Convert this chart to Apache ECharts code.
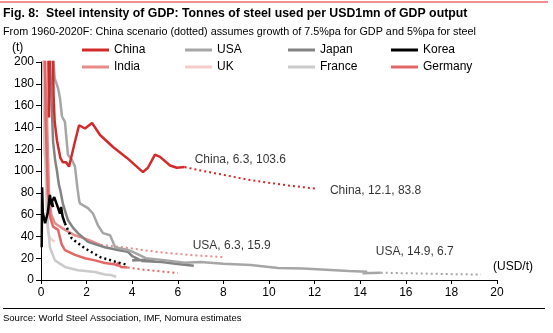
<!DOCTYPE html>
<html><head><meta charset="utf-8">
<script src="https://cdn.jsdelivr.net/npm/echarts@6/dist/echarts.min.js"></script>
<style>html,body{margin:0;padding:0;background:#fff}#c{width:553px;height:333px}</style>
</head><body><div id="c"></div>
<script>
// ---- data (x: GDP USD tn, y: tonnes of steel per USD1mn GDP) ----
var xTicks = [0,2,4,6,8,10,12,14,16,18,20];
var yTicks = [0,20,40,60,80,100,120,140,160,180,200];
var legendNames = ['China','USA','Japan','Korea','India','UK','France','Germany'];

var china = [[0.2,320],[0.25,230],[0.3,260],[0.35,149],[0.4,240],[0.48,280],[0.52,210],[0.55,170],[0.6,145],[0.7,128],[0.85,112],[0.96,108],[1.1,108],[1.23,104],[1.32,112],[1.49,127],[1.67,142],[1.93,139],[2.24,144],[2.59,133],[3.16,122],[3.77,112],[4.47,99],[4.69,103],[5.0,115],[5.22,113],[5.66,105],[5.96,103],[6.3,103.6]];
var chinaProj = [[6.3,103.6],[7,100.5],[8,96.5],[9,92.3],[10,89.2],[11,86.3],[12.1,83.8]];
var usa = [[0.5,260],[0.55,200],[0.6,185],[0.7,179],[0.76,175],[0.83,167],[0.92,150],[1.05,145],[1.18,115],[1.36,110],[1.49,104],[1.6,84],[1.68,72],[1.72,70],[2.06,66],[2.28,61],[2.5,50],[2.72,43],[3.03,41],[3.25,30],[3.8,27.5],[4.0,26],[4.6,20],[5.5,18],[6.3,15.9],[7.0,16.5],[8.0,15],[9.2,13.8],[10.4,11],[11.5,10.5],[12.5,9.5],[13.5,8.3],[14.3,7.5],[14.1,6.2],[14.9,6.7]];
var usaProj = [[14.9,6.7],[16,6.2],[17,5.8],[18,5.4],[19.3,5.0]];
var japan = [[0.3,280],[0.4,200],[0.47,160],[0.53,127],[0.62,110],[0.7,100],[0.78,88],[0.85,82],[0.96,70],[1.18,55],[1.4,48],[1.62,43],[2.06,35],[2.5,32],[2.8,30],[3.38,27.5],[3.8,26],[4.0,22],[4.3,19],[4.0,18],[4.6,18.5],[5.0,17],[4.4,17.5],[5.3,16.5],[5.9,15],[6.3,14],[6.7,13]];
var korea = [[0.03,30],[0.05,85],[0.08,62],[0.18,52],[0.3,62],[0.39,78],[0.45,70],[0.53,67],[0.48,72],[0.58,76],[0.66,75],[0.75,66],[0.83,61],[0.88,67],[0.95,58],[1.05,52]];
var koreaProj = [[1.05,52],[1.35,38],[1.93,29],[2.6,21],[3.3,16.5],[3.8,13.8]];
var india = [[0.04,300],[0.08,230],[0.15,200],[0.25,160],[0.3,120],[0.35,80],[0.45,60],[0.61,52],[1.05,46],[1.49,41],[2.06,37],[2.63,32]];
var indiaProj = [[2.63,32],[3.6,30],[5.1,25.7],[6.5,23],[8.0,21]];
var uk = [[0.08,300],[0.1,200],[0.15,140],[0.2,100],[0.25,60],[0.3,45],[0.4,38],[0.6,35]];
var france = [[0.06,300],[0.1,200],[0.15,120],[0.22,100],[0.3,50],[0.39,30],[0.61,18],[1.05,12],[1.62,9],[2.37,7.3],[2.8,5],[3.07,4.5],[3.3,3]];
var germany = [[0.15,300],[0.2,150],[0.3,80],[0.4,58],[0.53,49],[0.75,46],[0.9,33],[1.05,27.5],[1.49,23],[1.93,20],[2.37,18],[2.8,15.6],[3.2,14.5],[3.4,13],[3.35,16],[3.5,12],[3.8,11.5]];
var germanyProj = [[3.8,11.5],[4.5,9.5],[5.2,8],[6.0,6.4]];

var labelTexts = ['China, 6.3, 103.6','China, 12.1, 83.8','USA, 6.3, 15.9','USA, 14.9, 6.7'];
var labelPoints = [[6.3,103.6],[12.1,83.8],[6.3,15.9],[14.9,6.7]];

// ---- styling ----
var FONT = 'Liberation Sans, Arial, sans-serif';
var colors = {China:'#d42a2a',USA:'#a6a6a6',Japan:'#838383',Korea:'#000000',India:'#e98b8b',UK:'#f6cccc',France:'#cbcbcb',Germany:'#e26767'};
var labelOffsets = [[10,-13],[13,-4],[8,-23],[-5,-27]];

function solid(name, data){
  return {name:name, type:'line', data:data, showSymbol:false, symbol:'none',
    lineStyle:{color:colors[name], width:2.5}, itemStyle:{color:colors[name]}, emphasis:{disabled:true}};
}
function dotted(name, data, w){
  return {name:name+' proj', type:'line', data:data, showSymbol:false, symbol:'none',
    lineStyle:{color:colors[name], width:w||2, type:[2,3]}, itemStyle:{color:colors[name]}, emphasis:{disabled:true}};
}

var legends = legendNames.map(function(n,i){
  return {data:[n], left:82 + (i%4)*103, top:44 + Math.floor(i/4)*17, padding:0,
    icon:'rect', itemWidth:27, itemHeight:3, selectedMode:false,
    textStyle:{fontFamily:FONT, fontSize:12, color:'#000'}};
});

var option = {
  animation:false,
  textStyle:{fontFamily:FONT},
  title:[
    {text:'Fig. 8:  Steel intensity of GDP: Tonnes of steel used per USD1mn of GDP output', left:3, top:8, padding:0,
      textStyle:{fontFamily:FONT, fontSize:12.3, fontWeight:'bold', color:'#000'}},
    {text:'From 1960-2020F: China scenario (dotted) assumes growth of 7.5%pa for GDP and 5%pa for steel', left:3, top:27, padding:0,
      textStyle:{fontFamily:FONT, fontSize:10.8, fontWeight:'normal', color:'#000'}},
    {text:'Source: World Steel Association, IMF, Nomura estimates', left:3, top:313, padding:0,
      textStyle:{fontFamily:FONT, fontSize:9.5, fontWeight:'normal', color:'#000'}}
  ],
  legend:legends,
  grid:{left:41, right:56, top:62, bottom:53, containLabel:false},
  xAxis:{type:'value', min:xTicks[0], max:xTicks[xTicks.length-1], interval:xTicks[1]-xTicks[0],
    axisLine:{lineStyle:{color:'#000', width:1}}, axisTick:{length:4, lineStyle:{color:'#000'}},
    axisLabel:{color:'#000', fontSize:12, margin:7, fontFamily:FONT}, splitLine:{show:false}},
  yAxis:{type:'value', min:yTicks[0], max:yTicks[yTicks.length-1], interval:yTicks[1]-yTicks[0],
    axisLine:{show:true, lineStyle:{color:'#000', width:1}}, axisTick:{show:true, length:5, lineStyle:{color:'#000'}},
    axisLabel:{color:'#000', fontSize:12, margin:7, fontFamily:FONT}, splitLine:{show:false}},
  graphic:[
    {type:'line', shape:{x1:0,y1:2,x2:548,y2:2}, style:{stroke:'#e02020', lineWidth:1}},
    {type:'line', shape:{x1:3,y1:308.5,x2:545,y2:308.5}, style:{stroke:'#000', lineWidth:1}},
    {type:'text', left:12, top:42, style:{text:'(t)', font:'12px '+FONT, fill:'#000'}},
    {type:'text', left:493, top:261, style:{text:'(USD/t)', font:'12px '+FONT, fill:'#000'}}
  ],
  series:[
    solid('UK', uk),
    solid('France', france),
    solid('India', india), dotted('India', indiaProj),
    solid('Germany', germany), dotted('Germany', germanyProj),
    solid('Japan', japan),
    solid('USA', usa), dotted('USA', usaProj, 2),
    solid('Korea', korea), dotted('Korea', koreaProj, 2.5),
    solid('China', china), dotted('China', chinaProj),
    {name:'labels', type:'scatter', symbolSize:0, silent:true,
      data:labelPoints.map(function(p,i){
        return {value:p, label:{show:true, formatter:labelTexts[i], position:labelOffsets[i],
          color:'#000', fontSize:12, fontFamily:FONT}};
      })}
  ]
};
var chart = echarts.init(document.getElementById('c'), null, {renderer:'canvas'});
chart.setOption(option);
</script>
</body></html>
